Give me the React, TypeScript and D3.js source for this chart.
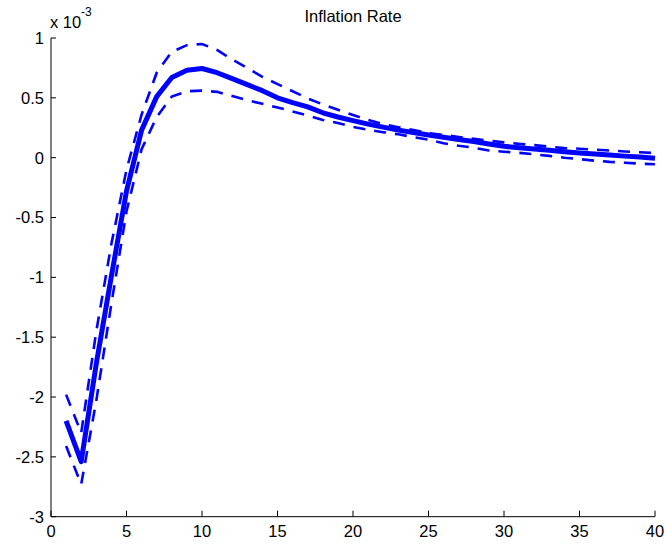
import React from "react";
import * as d3 from "d3";

// values in units of 1e-3
const periods: number[] = d3.range(1, 41);
const mainIRF: number[] = [
  -2.2, -2.54, -1.72, -0.99, -0.28, 0.23, 0.51, 0.67, 0.73, 0.745,
  0.71, 0.66, 0.61, 0.56, 0.5, 0.46, 0.425, 0.375, 0.34, 0.31,
  0.28, 0.255, 0.23, 0.21, 0.19, 0.17, 0.152, 0.135, 0.115, 0.095,
  0.083, 0.072, 0.062, 0.05, 0.04, 0.03, 0.022, 0.013, 0.005, -0.005,
];
const upperBand: number[] = [
  -1.98, -2.3, -1.45, -0.72, -0.1, 0.36, 0.71, 0.885, 0.94, 0.95,
  0.9, 0.82, 0.75, 0.675, 0.615, 0.555, 0.495, 0.445, 0.4, 0.356,
  0.315, 0.28, 0.255, 0.232, 0.205, 0.19, 0.173, 0.157, 0.142, 0.128,
  0.115, 0.105, 0.092, 0.08, 0.075, 0.067, 0.06, 0.052, 0.045, 0.038,
];
const lowerBand: number[] = [
  -2.41, -2.73, -2.03, -1.22, -0.45, 0.07, 0.34, 0.51, 0.555, 0.56,
  0.55, 0.515, 0.48, 0.45, 0.42, 0.386, 0.353, 0.315, 0.29, 0.258,
  0.233, 0.213, 0.195, 0.172, 0.15, 0.12, 0.1, 0.083, 0.06, 0.05,
  0.04, 0.028, 0.015, 0.0, -0.012, -0.025, -0.035, -0.042, -0.05, -0.055,
];
const xTicks: number[] = [0, 5, 10, 15, 20, 25, 30, 35, 40];
const yTicks: number[] = [1, 0.5, 0, -0.5, -1, -1.5, -2, -2.5, -3];
const title = "Inflation Rate";

const W = 668;
const H = 546;
const left = 51;
const right = 655;
const top = 38;
const bottom = 516.7;
const FONT = "'Liberation Sans', Arial, Helvetica, sans-serif";
const BLUE = "#0000ff";

export default function App() {
  const x = d3.scaleLinear().domain([0, 40]).range([left, right]);
  const y = d3.scaleLinear().domain([-3, 1]).range([bottom, top]);
  const line = d3
    .line<number>()
    .x((_, i) => x(periods[i]))
    .y((d) => y(d));

  return (
    <svg
      width={W}
      height={H}
      style={{ position: "absolute", left: 0, top: 0, background: "#fff" }}
      fontFamily={FONT}
    >
      <rect x={0} y={0} width={W} height={H} fill="#fff" />
      {/* lines */}
      <path d={line(upperBand) || ""} fill="none" stroke={BLUE} strokeWidth={2.6} strokeDasharray="12,9" />
      <path d={line(lowerBand) || ""} fill="none" stroke={BLUE} strokeWidth={2.6} strokeDasharray="12,9" />
      <path d={line(mainIRF) || ""} fill="none" stroke={BLUE} strokeWidth={5} strokeLinejoin="round" />

      {/* axes */}
      <line x1={left} x2={left} y1={top} y2={bottom} stroke="#000" strokeWidth={1} />
      <line x1={left} x2={right} y1={bottom} y2={bottom} stroke="#000" strokeWidth={1} />
      {yTicks.map((t) => (
        <g key={"y" + t}>
          <line x1={left} x2={left + 5} y1={y(t)} y2={y(t)} stroke="#000" />
          <text
            x={left - 7}
            y={y(t)}
            dy="0.36em"
            textAnchor="end"
            fontSize={16.5}
            fill="#000"
          >
            {t}
          </text>
        </g>
      ))}
      {xTicks.map((t) => (
        <g key={"x" + t}>
          <line x1={x(t)} x2={x(t)} y1={bottom} y2={bottom - 6} stroke="#000" />
          <text x={x(t)} y={537} textAnchor="middle" fontSize={16.5} fill="#000">
            {t}
          </text>
        </g>
      ))}
      {/* exponent label */}
      <text x={50} y={27.5} fontSize={16.5} fill="#000">
        x 10
      </text>
      <text x={81} y={16} fontSize={12} fill="#000">
        -3
      </text>
      {/* title */}
      <text x={(left + right) / 2} y={22} textAnchor="middle" fontSize={16.5} fill="#000">
        {title}
      </text>
    </svg>
  );
}
